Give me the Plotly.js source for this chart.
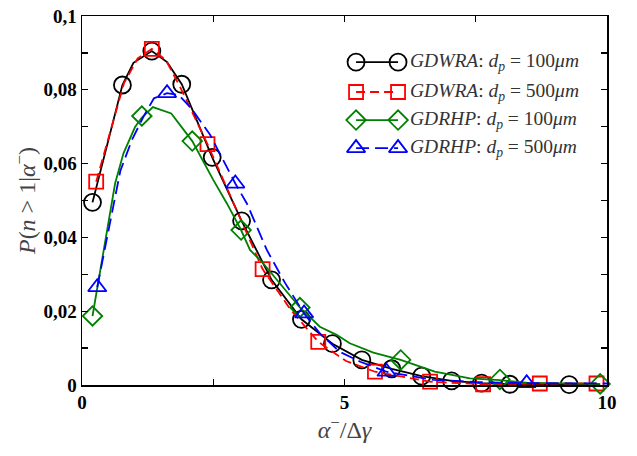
<!DOCTYPE html>
<html>
<head>
<meta charset="utf-8">
<script src="https://cdn.plot.ly/plotly-3.0.1.min.js"></script>
<style>html,body{margin:0;padding:0;background:#fff;}#chart{width:637px;height:456px;}</style>
</head>
<body>
<div id="chart"></div>
<script>
// ---- Data ----
// GDWRA, d_p = 100 µm (black, circles)
const gdwra100LineX = [0.2, 0.77, 0.98, 1.33, 1.62, 1.9, 2.48, 3.04, 3.61, 4.18, 4.77, 5.33, 5.9, 6.47, 7.04, 7.61, 8.15, 9.28, 9.87];
const gdwra100LineY = [0.0495, 0.0813, 0.0873, 0.0905, 0.0875, 0.0815, 0.0617, 0.0445, 0.0285, 0.0178, 0.0112, 0.0068, 0.0044, 0.0024, 0.0011, 0.0005, 0.0002, 0.0001, 0.0001];
const gdwra100MarkX = [0.2, 0.77, 1.33, 1.9, 2.48, 3.04, 3.61, 4.18, 4.77, 5.33, 5.9, 6.47, 7.04, 7.61, 8.15, 9.28];
const gdwra100MarkY = [0.0495, 0.0813, 0.0905, 0.0815, 0.0617, 0.0445, 0.0285, 0.0178, 0.0112, 0.0068, 0.0044, 0.0024, 0.0011, 0.0005, 0.0002, 0.0001];

// GDWRA, d_p = 500 µm (red, squares)
const gdwra500LineX = [0.27, 0.8, 1.06, 1.33, 1.6, 1.86, 2.39, 3.44, 3.97, 4.5, 5.03, 5.58, 6.63, 7.64, 8.72, 9.8];
const gdwra500LineY = [0.0551, 0.0818, 0.0885, 0.0911, 0.088, 0.081, 0.0653, 0.0314, 0.0205, 0.0117, 0.0065, 0.0036, 0.0009, 0.0002, 0.0004, 0.0004];
const gdwra500MarkX = [0.27, 1.33, 2.39, 3.44, 4.5, 5.58, 6.63, 7.64, 8.72, 9.8];
const gdwra500MarkY = [0.0551, 0.0911, 0.0653, 0.0314, 0.0117, 0.0036, 0.0009, 0.0002, 0.0004, 0.0004];

// GDRHP, d_p = 100 µm (green, diamonds)
const gdrhp100LineX = [0.2, 0.63, 0.79, 1.01, 1.14, 1.35, 1.7, 2.1, 2.5, 2.76, 3.03, 3.2, 3.45, 3.77, 4.15, 4.53, 4.85, 5.1, 5.55, 6.07, 6.72, 7.39, 7.96, 8.5, 9.2, 9.87];
const gdrhp100LineY = [0.0187, 0.0546, 0.0628, 0.0699, 0.0725, 0.0753, 0.0736, 0.0661, 0.0556, 0.0492, 0.042, 0.0366, 0.033, 0.0276, 0.021, 0.0158, 0.0136, 0.0113, 0.0088, 0.0068, 0.0036, 0.0018, 0.0013, 0.0006, 0.0004, 0.0003];
const gdrhp100MarkX = [0.2, 1.14, 2.1, 3.03, 4.15, 6.07, 7.96, 9.87];
const gdrhp100MarkY = [0.0187, 0.0729, 0.0661, 0.042, 0.021, 0.0068, 0.0015, 0.0003];

// GDRHP, d_p = 500 µm (blue, triangles)
const gdrhp500LineX = [0.29, 0.73, 0.95, 1.17, 1.37, 1.62, 1.84, 2.08, 2.44, 2.69, 2.92, 3.14, 3.52, 3.87, 4.23, 4.53, 4.91, 5.3, 5.8, 6.69, 7.5, 8.47, 9.3, 10];
const gdrhp500LineY = [0.0265, 0.058, 0.0664, 0.0727, 0.0777, 0.0791, 0.0786, 0.075, 0.0678, 0.061, 0.0546, 0.0492, 0.0366, 0.0276, 0.0194, 0.014, 0.009, 0.0063, 0.0036, 0.0014, 0.0008, 0.0005, 0.0004, 0.0004];
const gdrhp500MarkX = [0.29, 1.62, 2.92, 4.23, 5.8, 8.47];
const gdrhp500MarkY = [0.0265, 0.0791, 0.0546, 0.0194, 0.0036, 0.0005];

// Axis ticks
const xTickVals = [0, 2.5, 5, 7.5, 10];
const xTickText = ['0', '', '5', '', '10'];
const yTickVals = [0, 0.01, 0.02, 0.03, 0.04, 0.05, 0.06, 0.07, 0.08, 0.09, 0.1];
const yTickText = ['0', '', '0,02', '', '0,04', '', '0,06', '', '0,08', '', '0,1'];

// Legend labels
const seriesNames = [
  '<i>GDWRA</i>: <i>d</i><sub><i>p</i></sub> = 100<i>μm</i>',
  '<i>GDWRA</i>: <i>d</i><sub><i>p</i></sub> = 500<i>μm</i>',
  '<i>GDRHP</i>: <i>d</i><sub><i>p</i></sub> = 100<i>μm</i>',
  '<i>GDRHP</i>: <i>d</i><sub><i>p</i></sub> = 500<i>μm</i>'
];

// ---- Styles ----
const SERIF = '"Liberation Serif", "Times New Roman", Times, serif';
const styles = [
  {color: '#000000', dash: 'solid', symbol: 'circle-open', size: 17},
  {color: '#ff0000', dash: '9px,5px', symbol: 'square-open', size: 14},
  {color: '#008000', dash: 'solid', symbol: 'diamond-open', size: 15},
  {color: '#0000ff', dash: '13px,6px', symbol: 'triangle-up-open', size: 16}
];
const series = [
  [gdwra100LineX, gdwra100LineY, gdwra100MarkX, gdwra100MarkY],
  [gdwra500LineX, gdwra500LineY, gdwra500MarkX, gdwra500MarkY],
  [gdrhp100LineX, gdrhp100LineY, gdrhp100MarkX, gdrhp100MarkY],
  [gdrhp500LineX, gdrhp500LineY, gdrhp500MarkX, gdrhp500MarkY]
];

const traces = [];
series.forEach((s, i) => {
  const st = styles[i];
  traces.push({x: s[0], y: s[1], mode: 'lines', type: 'scatter', showlegend: false, hoverinfo: 'skip',
    line: {color: st.color, width: 1.8, dash: st.dash}});
  traces.push({x: s[2], y: s[3], mode: 'markers', type: 'scatter', showlegend: false, cliponaxis: false,
    marker: {symbol: st.symbol, size: st.size, color: st.color, line: {color: st.color, width: 1.8}}});
});

// Custom legend (samples with a marker at both ends) on an overlay axis
const legRowY = [0.875, 0.794, 0.718, 0.642];
const legX0 = 0.522, legX1 = 0.602;
const annotations = [];
styles.forEach((st, i) => {
  traces.push({x: [legX0, legX1], y: [legRowY[i], legRowY[i]], xaxis: 'x2', yaxis: 'y2', mode: 'lines+markers',
    showlegend: false, hoverinfo: 'skip', cliponaxis: false,
    line: {color: st.color, width: 1.8, dash: st.dash},
    marker: {symbol: st.symbol, size: st.size, color: st.color, line: {color: st.color, width: 1.8}}});
  annotations.push({xref: 'x2', yref: 'y2', x: 0.62, y: legRowY[i], xanchor: 'left', yanchor: 'middle',
    text: seriesNames[i], showarrow: false,
    font: {family: SERIF, size: 19.5, color: '#333333'}});
});

const tickFont = {family: SERIF, size: 19, color: '#000', weight: 'bold'};

const layout = {
  width: 637, height: 456,
  margin: {l: 82, r: 30, t: 16, b: 71},
  paper_bgcolor: '#fff', plot_bgcolor: '#fff',
  showlegend: false,
  font: {family: SERIF},
  xaxis: {
    range: [0, 10], tickvals: xTickVals, ticktext: xTickText,
    ticks: 'inside', ticklen: 6, tickwidth: 1.3, tickcolor: '#000',
    showline: true, linecolor: '#000', linewidth: 1.5, mirror: 'ticks',
    showgrid: false, zeroline: false, tickfont: tickFont,
    title: {text: '<i>α</i><sup>−</sup>/Δ<i>γ</i>', font: {family: SERIF, size: 24, color: '#444'}, standoff: 8}
  },
  yaxis: {
    range: [0, 0.1], tickvals: yTickVals, ticktext: yTickText,
    ticks: 'inside', ticklen: 6, tickwidth: 1.3, tickcolor: '#000',
    showline: true, linecolor: '#000', linewidth: 1.5, mirror: 'ticks',
    showgrid: false, zeroline: false, tickfont: tickFont,
    title: {text: '<i>P</i>(<i>n</i> &gt; 1|<i>α</i><sup>−</sup>)', font: {family: SERIF, size: 24, color: '#444'}, standoff: 1}
  },
  xaxis2: {overlaying: 'x', range: [0, 1], visible: false, fixedrange: true},
  yaxis2: {overlaying: 'y', range: [0, 1], visible: false, fixedrange: true},
  annotations: annotations
};

Plotly.newPlot('chart', traces, layout, {staticPlot: true, displayModeBar: false});
</script>
</body>
</html>
